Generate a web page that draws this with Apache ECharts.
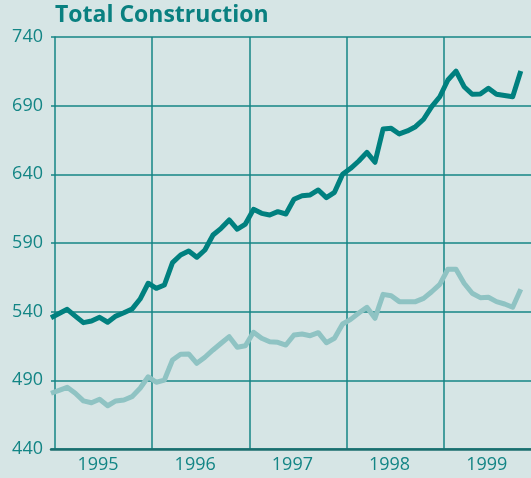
<!DOCTYPE html>
<html>
<head>
<meta charset="utf-8">
<script src="https://cdn.jsdelivr.net/npm/echarts@6/dist/echarts.min.js"></script>
<style>
html,body{margin:0;padding:0;background:#d6e5e5;}
#c{width:531px;height:478px;}
</style>
</head>
<body>
<div id="c"></div>
<script>
// Monthly points, Dec 1994 .. Oct 1999 (index 0 = Dec 1994)
var months = [];
for (var m = 0; m < 59; m++) { months.push(m); }

var yearLabels = ['1995', '1996', '1997', '1998', '1999'];
var yTicks = [440, 490, 540, 590, 640, 690, 740];

var darkSeries = [
  535.6, 538.7, 541.7, 536.8, 532.0, 533.2, 535.9, 532.3, 536.8, 539.2,
  541.9, 549.2, 560.7, 557.0, 559.4, 575.7, 581.3, 584.2, 579.6, 584.9,
  595.8, 600.7, 606.8, 600.0, 603.8, 614.5, 611.6, 610.4, 612.8, 611.1,
  621.8, 624.4, 625.0, 628.6, 623.0, 626.9, 640.0, 644.4, 649.7, 656.0,
  648.8, 673.0, 673.5, 669.4, 671.6, 674.7, 680.1, 689.3, 696.5, 708.7,
  715.2, 703.8, 698.3, 698.5, 702.7, 698.3, 697.4, 696.5, 715.2
];

var lightSeries = [
  480.6, 482.7, 484.9, 480.6, 475.0, 473.7, 476.2, 471.5, 475.0, 475.7,
  478.1, 484.2, 492.6, 488.6, 490.2, 504.8, 509.0, 509.2, 502.4, 506.8,
  512.1, 517.0, 521.8, 514.1, 515.2, 525.0, 520.6, 518.1, 517.7, 515.7,
  523.0, 523.7, 522.5, 524.7, 517.4, 520.6, 531.0, 534.4, 539.0, 543.2,
  535.2, 552.6, 551.6, 547.3, 547.3, 547.3, 549.7, 554.5, 559.9, 570.9,
  570.9, 560.7, 553.4, 550.2, 550.5, 547.3, 545.6, 543.2, 556.3
];

function pairs(vals) {
  return vals.map(function (v, i) { return [months[i] - 0.5, v]; });
}

var boundaryValues = yearLabels.slice(1).map(function (y, k) { return 12 * (k + 1); });
var labelValues = yearLabels.map(function (y, k) { return 12 * k + 5.3; });

var chart = echarts.init(document.getElementById('c'));
chart.setOption({
  backgroundColor: '#d6e5e5',
  animation: false,
  title: {
    text: 'Total Construction',
    left: 50, top: -1,
    textStyle: { fontFamily: 'Open Sans', fontWeight: 'bold', fontSize: 23, color: '#0a8080' }
  },
  grid: { left: 51, right: 0, top: 37, bottom: 29 },
  xAxis: {
    type: 'value',
    min: -0.5, max: 58.76,
    axisLine: { show: true, onZero: false, lineStyle: { color: '#1b6e6e', width: 2.5 } },
    axisTick: { show: false, customValues: boundaryValues },
    splitLine: { show: true, lineStyle: { color: '#158585', width: 1.5 } },
    axisLabel: {
      customValues: labelValues,
      formatter: function (v) { return yearLabels[Math.round((v - 5.3) / 12)]; },
      fontFamily: 'Open Sans', fontSize: 18, color: '#138585', margin: 7
    }
  },
  yAxis: {
    type: 'value',
    min: yTicks[0], max: yTicks[yTicks.length - 1], interval: 50,
    axisLine: { show: true, lineStyle: { color: '#158585', width: 1.5 } },
    axisTick: { show: false },
    splitLine: { show: true, lineStyle: { color: '#158585', width: 1.5 } },
    axisLabel: { fontFamily: 'Open Sans', fontSize: 18, color: '#138585', margin: 8 }
  },
  series: [
    {
      type: 'line', data: pairs(lightSeries), showSymbol: false, symbol: 'none',
      lineStyle: { color: '#8fc3c3', width: 5, join: 'round' }, clip: false
    },
    {
      type: 'line', data: pairs(darkSeries), showSymbol: false, symbol: 'none',
      lineStyle: { color: '#00807f', width: 5, join: 'round' }, clip: false
    }
  ]
});
</script>
</body>
</html>
